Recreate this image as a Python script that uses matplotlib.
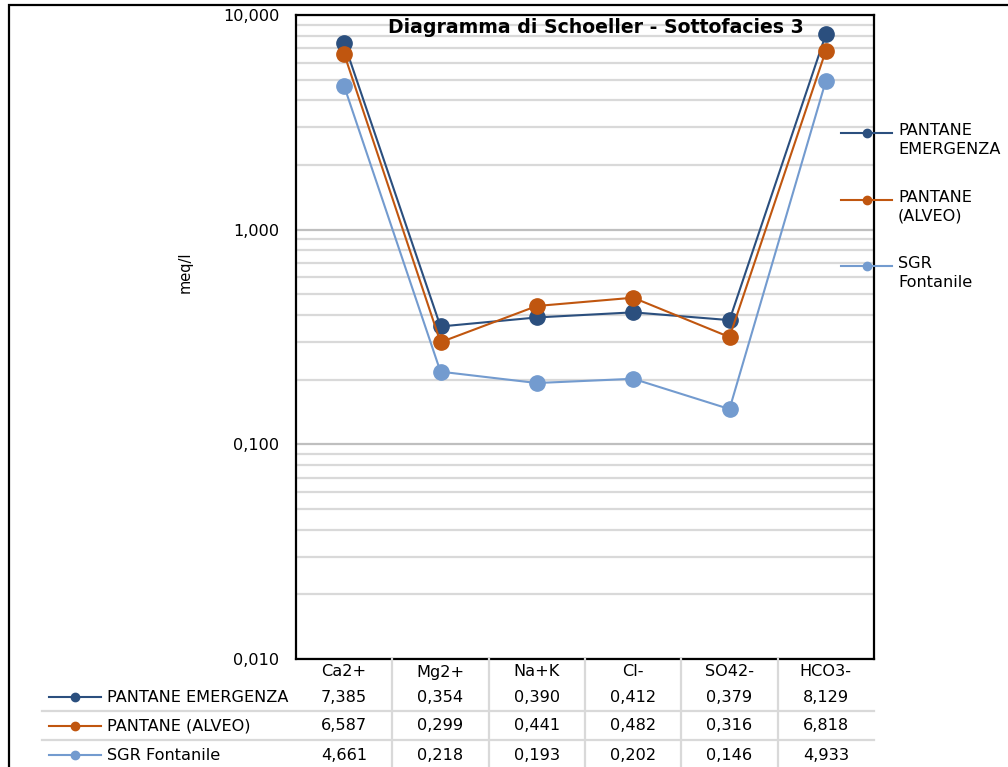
import matplotlib.pyplot as plt
from matplotlib.lines import Line2D
from matplotlib.patches import Rectangle
from matplotlib.ticker import FixedLocator, FuncFormatter, LogLocator

# Dati del diagramma (meq/l)
categorie = ['Ca2+', 'Mg2+', 'Na+K', 'Cl-', 'SO42-', 'HCO3-']
pantane_emergenza = [7.385, 0.354, 0.390, 0.412, 0.379, 8.129]
pantane_alveo = [6.587, 0.299, 0.441, 0.482, 0.316, 6.818]
sgr_fontanile = [4.661, 0.218, 0.193, 0.202, 0.146, 4.933]

nomi = ['PANTANE EMERGENZA', 'PANTANE (ALVEO)', 'SGR Fontanile']
nomi_legenda = ['PANTANE\nEMERGENZA', 'PANTANE\n(ALVEO)', 'SGR\nFontanile']
serie = [pantane_emergenza, pantane_alveo, sgr_fontanile]
colori = ['#2b4f7e', '#c0560f', '#739bcf']

plt.rcParams['font.family'] = 'DejaVu Sans'
FS = 11.6

W, H = 1008, 767
fig = plt.figure(figsize=(W / 100, H / 100), dpi=100)


def fx(px):
    return px / W


def fy(py):
    return 1 - py / H


def virgola(v):
    return f'{v:.3f}'.replace('.', ',')


# cornice esterna
fig.patches.append(Rectangle((fx(9), fy(775)), fx(1010), fy(5) - fy(775),
                             transform=fig.transFigure, fill=False,
                             edgecolor='black', linewidth=1.6))

x0, x1, y0, y1 = 296, 874, 15, 659
ax = fig.add_axes([fx(x0), fy(y1), fx(x1 - x0), fy(y0) - fy(y1)])

pos = list(range(len(categorie)))
for valori, col in zip(serie, colori):
    ax.plot(pos, valori, color=col, linewidth=1.5, marker='o', markersize=11,
            zorder=3)

ax.set_yscale('log')
ax.set_ylim(0.01, 10)
ax.set_xlim(-0.5, len(categorie) - 0.5)
ax.yaxis.set_major_locator(FixedLocator([0.01, 0.1, 1, 10]))
ax.yaxis.set_minor_locator(LogLocator(base=10, subs=range(2, 10)))
ax.yaxis.set_major_formatter(FuncFormatter(lambda v, p: virgola(v)))
ax.yaxis.set_minor_formatter(FuncFormatter(lambda v, p: ''))
ax.tick_params(axis='y', which='both', length=0, labelsize=FS, pad=12)
ax.tick_params(axis='x', length=0, labelbottom=False)
ax.grid(axis='y', which='major', color='#bfbfbf', linewidth=1.6, zorder=0)
ax.grid(axis='y', which='minor', color='#d9d9d9', linewidth=1.6, zorder=0)
for s in ax.spines.values():
    s.set_linewidth(1.6)
    s.set_color('black')

ax.text(0.519, 0.996, 'Diagramma di Schoeller - Sottofacies 3', transform=ax.transAxes,
        ha='center', va='top', fontsize=13.6, fontweight='bold')

fig.text(fx(185), fy(272), 'meq/l', rotation=90, ha='center', va='center', fontsize=10.5)

# legenda a destra
leg_y = [133, 200, 266]
for nome, col, yy in zip(nomi_legenda, colori, leg_y):
    fig.lines.append(Line2D([fx(841), fx(892)], [fy(yy), fy(yy)], transform=fig.transFigure,
                            color=col, linewidth=1.5))
    fig.lines.append(Line2D([fx(867)], [fy(yy)], transform=fig.transFigure, color=col,
                            marker='o', markersize=6))
    fig.text(fx(898), fy(yy - 10), nome, ha='left', va='top', fontsize=FS,
             linespacing=1.3)

# tabella dati sotto il grafico
righe_y = [697, 726, 755]
larg = (x1 - x0) / len(categorie)
for i, cat in enumerate(categorie):
    xc = fx(x0 + (i + 0.5) * larg)
    fig.text(xc, fy(672), cat, ha='center', va='center', fontsize=FS)
    for valori, yy in zip(serie, righe_y):
        fig.text(xc, fy(yy), virgola(valori[i]), ha='center', va='center', fontsize=FS)

for nome, col, yy in zip(nomi, colori, righe_y):
    fig.lines.append(Line2D([fx(49), fx(101)], [fy(yy), fy(yy)], transform=fig.transFigure,
                            color=col, linewidth=1.5))
    fig.lines.append(Line2D([fx(75)], [fy(yy)], transform=fig.transFigure, color=col,
                            marker='o', markersize=6))
    fig.text(fx(107), fy(yy), nome, ha='left', va='center', fontsize=FS)

for yy in [711, 740]:
    fig.lines.append(Line2D([fx(42), fx(x1)], [fy(yy), fy(yy)], transform=fig.transFigure,
                            color='#d9d9d9', linewidth=1.6))
for i in range(1, len(categorie)):
    xx = x0 + i * larg
    fig.lines.append(Line2D([fx(xx), fx(xx)], [fy(y1), fy(H)], transform=fig.transFigure,
                            color='#d9d9d9', linewidth=1.6))

fig.savefig('out.png', dpi=100)
